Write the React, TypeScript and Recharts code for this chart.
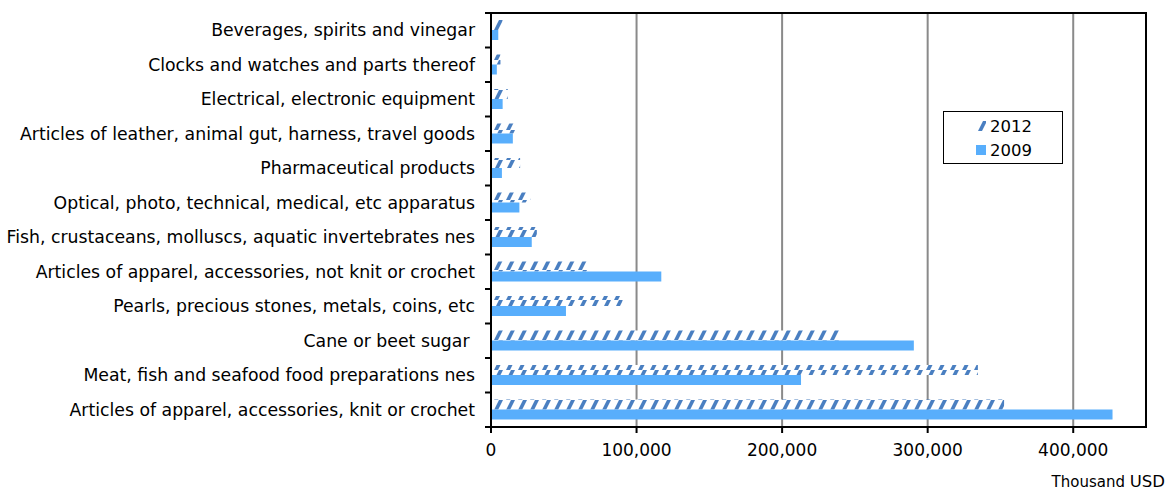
import React from 'react';
import {
  BarChart,
  Bar,
  XAxis,
  YAxis,
  CartesianGrid,
  ReferenceArea,
  Legend,
} from 'recharts';

const categories = [
  'Beverages, spirits and vinegar',
  'Clocks and watches and parts thereof',
  'Electrical, electronic equipment',
  'Articles of leather, animal gut, harness, travel goods',
  'Pharmaceutical products',
  'Optical, photo, technical, medical, etc apparatus',
  'Fish, crustaceans, molluscs, aquatic invertebrates nes',
  'Articles of apparel, accessories, not knit or crochet',
  'Pearls, precious stones, metals, coins, etc',
  'Cane or beet sugar ',
  'Meat, fish and seafood food preparations nes',
  'Articles of apparel, accessories, knit or crochet',
];

const values2012 = [8000, 6500, 11500, 18500, 20000, 27000, 31500, 68000, 90500, 240000, 334500, 352500];
const values2009 = [5000, 4000, 8000, 15000, 7500, 19500, 28000, 117000, 51500, 290500, 213000, 427000];

const xTicks = [0, 100000, 200000, 300000, 400000];

const data = categories.map((name, i) => ({
  name,
  y2012: values2012[i],
  y2009: values2009[i],
}));

const FONT = 'Verdana, "DejaVu Sans", sans-serif';

// category labels plus tick marks on the band boundaries
const YTick = (props: any) => {
  const { x, y, payload } = props;
  const half = payload?.offset ?? 17.25;
  return (
    <g>
      <text
        x={x - 8}
        y={y}
        dy={6}
        textAnchor="end"
        fontSize={17.3}
        fontFamily={FONT}
        fill="#000"
        style={{ whiteSpace: 'pre' }}
      >
        {payload.value}
      </text>
      <line x1={x + 2} x2={x + 8} y1={y - half} y2={y - half} stroke="#000" strokeWidth={2} />
      {payload.index === categories.length - 1 && (
        <line x1={x + 2} x2={x + 8} y1={y + half} y2={y + half} stroke="#000" strokeWidth={2} />
      )}
    </g>
  );
};

const LegendBox = () => (
  <div
    style={{
      width: 120,
      height: 53,
      border: '1.5px solid #000',
      background: '#fff',
      fontFamily: FONT,
      fontSize: 16.5,
      boxSizing: 'border-box',
      paddingTop: 2,
    }}
  >
    <div style={{ display: 'flex', alignItems: 'center', height: 24, paddingLeft: 32 }}>
      <svg width={10} height={10} style={{ marginRight: 4 }}>
        <rect width={10} height={10} fill="url(#hatch2012)" />
      </svg>
      <span>2012</span>
    </div>
    <div style={{ display: 'flex', alignItems: 'center', height: 24, paddingLeft: 32 }}>
      <svg width={10} height={10} style={{ marginRight: 4 }}>
        <rect width={10} height={10} fill="#58aefc" />
      </svg>
      <span>2009</span>
    </div>
  </div>
);

export default function App() {
  return (
    <div style={{ position: 'absolute', left: 0, top: 0, width: 1167, height: 490, background: '#fff' }}>
      <BarChart
        width={1167}
        height={490}
        data={data}
        layout="vertical"
        margin={{ top: 13, right: 21, left: 0, bottom: 33 }}
        barGap={0}
      >
        <defs>
          <pattern id="hatch2012" patternUnits="userSpaceOnUse" width={12} height={10}>
            <rect width={12} height={10} fill="#fff" />
            <polygon points="2,10 6,10 11,0 7,0" fill="#4a7fc1" />
          </pattern>
        </defs>
        <CartesianGrid horizontal={false} stroke="#8a8a8a" strokeWidth={2} />
        <XAxis
          type="number"
          domain={[0, 450000]}
          ticks={xTicks}
          allowDataOverflow
          height={30}
          axisLine={{ stroke: '#000', strokeWidth: 2 }}
          tickLine={{ stroke: '#000', strokeWidth: 2 }}
          tickSize={6}
          tickMargin={11}
          tick={{ fontSize: 17, fontFamily: FONT, fill: '#000' }}
          tickFormatter={(v: number) => v.toLocaleString('en-US')}
        />
        <YAxis
          type="category"
          dataKey="name"
          width={491}
          interval={0}
          axisLine={{ stroke: '#000', strokeWidth: 2 }}
          tickLine={false}
          tick={<YTick />}
        />
        <ReferenceArea x1={0} x2={450000} fill="none" stroke="#000" strokeWidth={2} ifOverflow="visible" />
        <Bar dataKey="y2012" name="2012" fill="url(#hatch2012)" barSize={10} isAnimationActive={false} />
        <Bar dataKey="y2009" name="2009" fill="#58aefc" barSize={10} isAnimationActive={false} />
        <Legend
          layout="vertical"
          align="center"
          verticalAlign="middle"
          content={<LegendBox />}
          wrapperStyle={{ left: 943, top: 111, width: 120, height: 53 }}
        />
      </BarChart>
      <div
        style={{
          position: 'absolute',
          right: 2,
          top: 472,
          fontFamily: FONT,
          color: '#000',
          whiteSpace: 'nowrap',
        }}
      >
        <span style={{ fontSize: 15 }}>Thousand </span>
        <span style={{ fontSize: 16.5 }}>USD</span>
      </div>
    </div>
  );
}
